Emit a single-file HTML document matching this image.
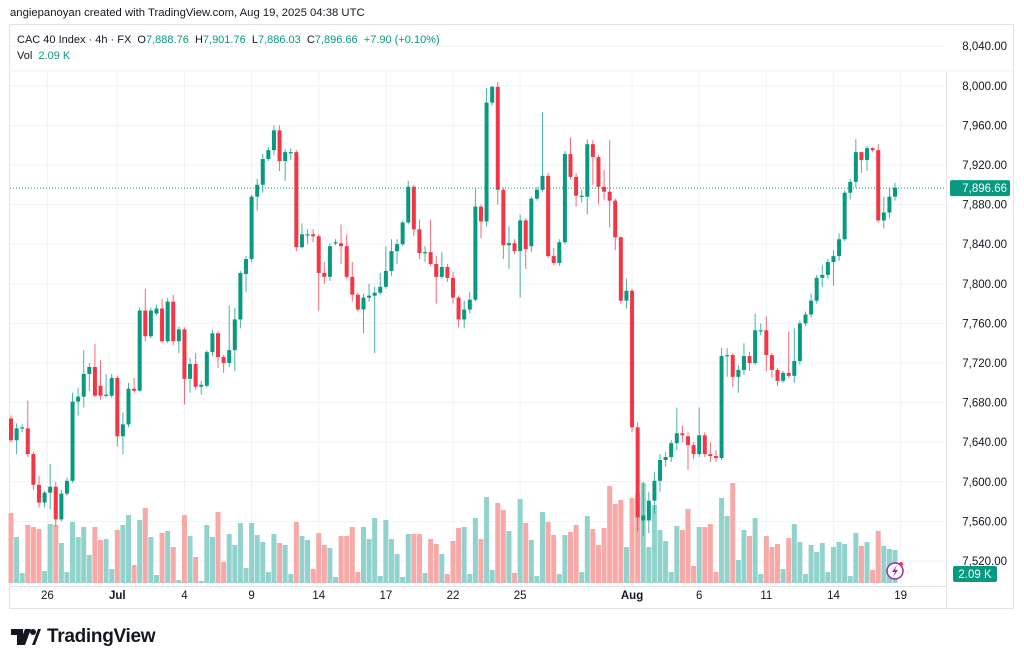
<!DOCTYPE html>
<html><head><meta charset="utf-8">
<style>
body{margin:0;background:#fff;width:1024px;height:665px;overflow:hidden;font-family:"Liberation Sans",sans-serif;}
#wrap{position:relative;width:1024px;height:665px;}
.t{position:absolute;font-size:11px;color:#131722;white-space:nowrap}
.g{color:#089981}
</style></head><body>
<div id="wrap">
<div class="t" style="left:10px;top:7px;font-size:11.3px">angiepanoyan created with TradingView.com, Aug 19, 2025 04:38 UTC</div>
<svg id="chart" width="1024" height="665" style="position:absolute;left:0;top:0"></svg>
<div class="t" style="left:17px;top:34px">CAC 40 Index · 4h · FX &nbsp;O<span class="g">7,888.76</span> &nbsp;H<span class="g">7,901.76</span> &nbsp;L<span class="g">7,886.03</span> &nbsp;C<span class="g">7,896.66</span> &nbsp;<span class="g">+7.90 (+0.10%)</span></div>
<div class="t" style="left:17px;top:50px">Vol &nbsp;<span class="g">2.09 K</span></div>
<div style="position:absolute;left:11px;top:626px;display:flex;align-items:center">
<svg width="30" height="18" viewBox="0 0 30 18"><path d="M0 1h12v16H6V7H0z M14 1h6l-6 16H8z" fill="#131722"/><circle cx="22" cy="4" r="3" fill="#131722"/><path d="M27 1h3l-6 16h-3z" fill="#131722"/></svg>
<span style="font-size:19px;font-weight:bold;color:#131722;margin-left:6px;letter-spacing:-0.3px">TradingView</span></div>
</div>
<script>
const opens=[7664,7642,7654,7654,7628,7597,7579,7589,7595,7562,7588,7601,7681,7686,7709,7716,7697,7687,7687,7705,7646,7658,7694,7692,7773,7747,7770,7775,7742,7782,7742,7754,7704,7719,7696,7697,7731,7750,7726,7720,7733,7764,7810,7825,7888,7900,7926,7935,7955,7924,7933,7933,7837,7850,7850,7848,7811,7807,7841,7841,7838,7807,7789,7774,7786,7788,7791,7797,7813,7833,7840,7862,7898,7855,7832,7832,7820,7807,7817,7806,7786,7764,7774,7784,7878,7863,7983,7999,7895,7839,7841,7833,7864,7838,7886,7895,7909,7828,7821,7842,7931,7908,7889,7888,7941,7928,7898,7893,7884,7847,7783,7793,7655,7561,7561,7581,7601,7622,7625,7639,7649,7646,7637,7628,7647,7628,7626,7624,7728,7728,7706,7713,7727,7720,7753,7753,7728,7713,7702,7710,7707,7722,7760,7769,7783,7806,7809,7822,7828,7845,7892,7903,7933,7925,7937,7935,7864,7872,7888];
const closes=[7642,7654,7655,7628,7597,7579,7589,7595,7562,7588,7601,7681,7686,7709,7716,7687,7687,7688,7705,7646,7658,7694,7692,7773,7747,7773,7775,7742,7782,7742,7754,7704,7719,7696,7698,7731,7750,7726,7720,7733,7764,7811,7825,7888,7900,7926,7935,7955,7924,7933,7933,7837,7850,7850,7848,7811,7807,7838,7842,7838,7807,7789,7774,7786,7788,7791,7797,7813,7833,7840,7862,7898,7855,7831,7832,7820,7807,7817,7806,7786,7764,7774,7784,7878,7863,7983,7999,7895,7839,7841,7833,7864,7835,7886,7895,7909,7828,7821,7842,7931,7908,7889,7889,7941,7928,7898,7893,7884,7847,7783,7793,7655,7564,7566,7581,7601,7622,7625,7639,7649,7647,7637,7628,7647,7628,7626,7624,7727,7728,7706,7713,7727,7720,7753,7753,7728,7713,7702,7710,7707,7722,7760,7769,7783,7806,7809,7822,7828,7845,7892,7903,7933,7925,7937,7935,7864,7872,7888,7897];
const highs=[7667,7659,7658,7682,7630,7606,7591,7618,7600,7592,7604,7690,7695,7733,7720,7739,7723,7709,7709,7707,7670,7700,7705,7776,7795,7776,7779,7785,7786,7789,7757,7756,7725,7730,7702,7733,7754,7752,7728,7778,7776,7813,7828,7890,7906,7931,7938,7960,7960,7936,7937,7935,7861,7855,7855,7850,7822,7841,7845,7860,7850,7822,7791,7790,7800,7797,7811,7838,7845,7845,7864,7904,7900,7865,7838,7865,7828,7832,7820,7812,7788,7783,7792,7896,7880,7998,8000,8004,7897,7858,7845,7870,7866,7888,7898,7973,7912,7836,7845,7934,7948,7912,7895,7946,7945,7930,7915,7945,7886,7848,7805,7795,7660,7600,7590,7610,7628,7630,7642,7675,7657,7650,7640,7675,7650,7640,7632,7735,7735,7730,7718,7740,7731,7770,7760,7767,7730,7715,7712,7752,7755,7763,7772,7790,7809,7819,7825,7834,7851,7894,7906,7946,7933,7939,7938,7941,7888,7897,7902];
const lows=[7640,7628,7650,7625,7592,7574,7574,7572,7555,7560,7586,7599,7667,7675,7692,7685,7683,7685,7685,7636,7628,7655,7690,7691,7742,7745,7768,7740,7740,7738,7730,7678,7690,7693,7688,7695,7727,7715,7710,7716,7712,7755,7792,7822,7874,7892,7924,7930,7914,7904,7925,7833,7836,7840,7842,7773,7800,7803,7839,7820,7805,7782,7772,7750,7782,7730,7789,7795,7808,7820,7838,7860,7848,7825,7822,7818,7780,7805,7802,7780,7756,7755,7770,7782,7846,7858,7980,7880,7825,7815,7830,7786,7815,7832,7884,7893,7826,7819,7818,7840,7906,7878,7882,7870,7900,7880,7885,7857,7834,7780,7775,7650,7550,7545,7548,7568,7590,7615,7620,7632,7640,7612,7623,7625,7625,7620,7620,7622,7706,7696,7690,7708,7712,7718,7748,7712,7705,7697,7700,7705,7700,7718,7757,7766,7780,7797,7805,7798,7823,7843,7885,7897,7912,7914,7933,7862,7856,7866,7884];
const volumes=[70,46,10,58,56,54,12,59,58,40,11,61,46,56,28,56,43,44,14,53,58,68,18,63,75,46,8,50,52,36,3,68,47,26,2,58,46,71,21,49,38,60,15,60,48,41,11,49,40,38,9,61,47,43,14,50,38,35,6,47,47,56,11,56,44,65,7,63,44,29,6,49,49,49,10,44,39,29,9,42,55,56,9,65,44,86,13,80,73,52,10,84,60,43,7,71,61,48,9,48,51,58,11,67,54,38,55,97,79,83,36,85,90,100,36,78,53,42,11,57,53,74,17,56,56,59,11,85,67,100,23,53,47,65,9,47,36,39,14,45,59,41,9,38,31,40,11,36,41,39,7,50,37,41,13,52,37,34,33];
const priceTicks=[8040,8000,7960,7920,7880,7840,7800,7760,7720,7680,7640,7600,7560,7520];
const dateLabels=["26","Jul","4","9","14","17","22","25","Aug","6","11","14","19"];
const dateIdx=[6.5,19,31,43,55,67,79,91,111,123,135,147,159];
const lastPrice=7896.66;

const NS="http://www.w3.org/2000/svg";
const svg=document.getElementById('chart');
const X0=11,DX=5.595,PLOTR=946;
const xs=i=>X0+i*DX;
const ys=p=>165+(7920-p)*0.99;
const VB=583,VS=1.0;
function mk(tag,attrs,parent){const e=document.createElementNS(NS,tag);for(const k in attrs)e.setAttribute(k,attrs[k]);(parent||svg).appendChild(e);return e;}
const frame=mk('rect',{x:9.5,y:24.5,width:1004,height:584,fill:'#fff',stroke:'#e0e3eb'});


mk('line',{x1:9,y1:71,x2:1013,y2:71,stroke:'#f0f3fa'});
priceTicks.forEach(p=>{
 const y=ys(p);
 const gl=mk('line',{x1:10,y1:y,x2:PLOTR,y2:y,stroke:'#f0f3fa'});
 
 
 const t=mk('text',{x:1007,y:y+4,'text-anchor':'end','font-size':'11.5',fill:'#131722','font-family':'Liberation Sans, sans-serif'});
 t.textContent=p.toLocaleString('en-US',{minimumFractionDigits:2});
 
 
});
dateLabels.forEach((d,k)=>{
 const x=xs(dateIdx[k]);
 const gl=mk('line',{x1:x,y1:72,x2:x,y2:586,stroke:'#f0f3fa'});
 
 
 const t=mk('text',{x:x,y:599,'text-anchor':'middle','font-size':'11.5',fill:'#131722','font-family':'Liberation Sans, sans-serif','font-weight':(d==='Jul'||d==='Aug')?'bold':'normal'});
 t.textContent=d;
 
 
});
mk('line',{x1:10,y1:586.5,x2:PLOTR,y2:586.5,stroke:'#e0e3eb'});
mk('line',{x1:PLOTR+0.5,y1:72,x2:PLOTR+0.5,y2:608,stroke:'#e0e3eb'});
volumes.forEach((v,i)=>{
 const up=closes[i]>=opens[i];
 const h=v*VS;
 const r=mk('rect',{x:xs(i)-2.5,y:VB-h,width:5,height:h,fill:up?'#92d2cc':'#f7a9a7'});
 
 
});
opens.forEach((o,i)=>{
 const c=closes[i],up=c>=o,col=up?'#089981':'#f23645';
 const x=xs(i);
 const w=mk('line',{x1:x,y1:ys(highs[i]),x2:x,y2:ys(lows[i]),stroke:col,'stroke-width':1,'stroke-opacity':0.75});
 
 
 const top=ys(Math.max(o,c)),bh=Math.max(1.2,Math.abs(ys(o)-ys(c)));
 const b=mk('rect',{x:x-2,y:top,width:4,height:bh,fill:col});
 
 
});
const ly=ys(lastPrice);
const pl=mk('line',{x1:10,y1:ly,x2:PLOTR,y2:ly,stroke:'#089981','stroke-dasharray':'1 2'});


const pb=mk('rect',{x:950,y:ly-8,width:60,height:16,fill:'#089981',rx:2});


const pt=mk('text',{x:1007,y:ly+4,'text-anchor':'end','font-size':'11.5',fill:'#fff','font-family':'Liberation Sans, sans-serif'});
pt.textContent='7,896.66';


const vb=mk('rect',{x:953,y:566,width:44,height:16,fill:'#089981',rx:2});


const vt=mk('text',{x:975,y:578,'text-anchor':'middle','font-size':'11.5',fill:'#fff','font-family':'Liberation Sans, sans-serif'});
vt.textContent='2.09 K';


const ic=mk('circle',{cx:895,cy:571,r:8,fill:'#fff',stroke:'#9c27b0','stroke-width':1.5});


mk('path',{d:'M897 565l-5 7h3l-2 5 5-7h-3z',fill:'#9c27b0'});
mk('circle',{cx:901,cy:564,r:2,fill:'#f23645'});
</script>
</body></html>
